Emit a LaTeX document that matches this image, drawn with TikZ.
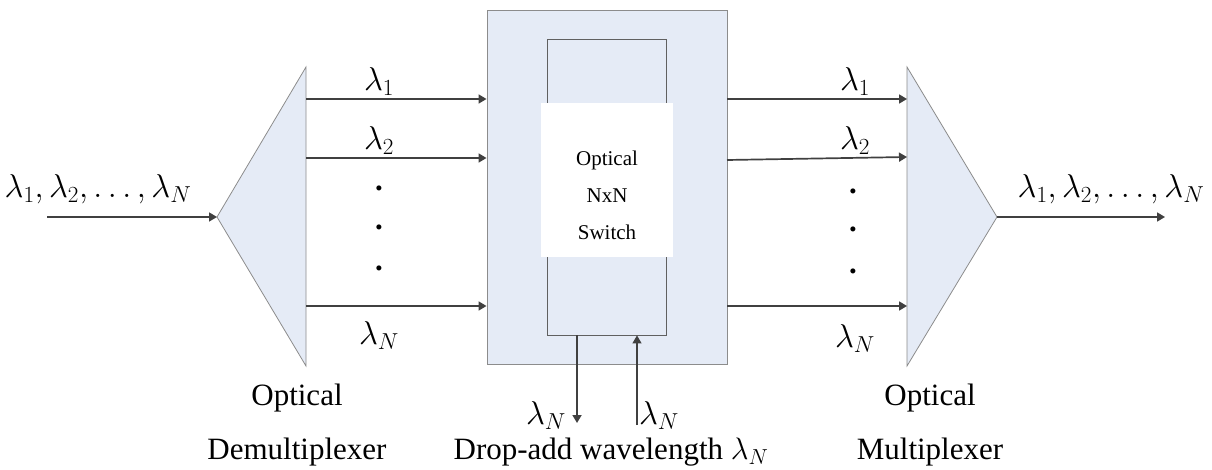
\RequirePackage{fix-cm}
\documentclass[tikz,border=0pt]{standalone}
\usepackage{fontspec}
\setmainfont{Liberation Serif}
\usetikzlibrary{arrows.meta}
\definecolor{boxfill}{HTML}{E5EBF6}
\definecolor{arrgray}{HTML}{404040}
\definecolor{edgegray}{HTML}{8C8C8C}
\definecolor{inneredge}{HTML}{606060}
\tikzset{
  big/.style={font=\fontsize{31}{54}\selectfont, inner sep=0pt},
  mathlbl/.style={font=\fontsize{33}{40}\selectfont, inner sep=0pt},
  small/.style={font=\fontsize{21}{37}\selectfont, inner sep=0pt, align=center},
  arr/.style={draw=arrgray, line width=1.7pt, -{Triangle[length=8pt,width=9pt]}},
  thinarr/.style={draw=arrgray, line width=1.2pt, -{Triangle[length=8pt,width=9pt]}},
  tri/.style={draw=edgegray, line width=0.8pt, fill=boxfill},
  dotlbl/.style={font=\fontsize{31}{37}\selectfont\bfseries, inner sep=0pt, anchor=base},
}
\begin{document}
\begin{tikzpicture}[x=1pt,y=-1pt]
\useasboundingbox (0,0) rectangle (1212,470);
% demultiplexer
\coordinate (dtip) at (217,217);
\coordinate (dtop) at (306,67);
\coordinate (dbot) at (306,366);
\draw[tri] (dtip) -- (dtop) -- (dbot) -- cycle;
% multiplexer
\coordinate (mtip) at (997,217);
\coordinate (mtop) at (907,67);
\coordinate (mbot) at (907,366);
\draw[tri] (mtip) -- (mtop) -- (mbot) -- cycle;
% switch block
\node[draw=edgegray, line width=0.9pt, fill=boxfill, minimum width=240pt, minimum height=354pt, inner sep=0pt] (sw) at (607,187) {};
\node[draw=inneredge, line width=0.8pt, minimum width=119pt, minimum height=296pt, inner sep=0pt] (core) at (606.5,187) {};
\node[fill=white, minimum width=132pt, minimum height=154pt, inner sep=0pt] (white) at (607,180) {};
\node[small] (swtxt) at (607,195) {Optical\\NxN\\Switch};
% input / output
\coordinate (in) at (47,217);
\coordinate (out) at (1165,217);
\draw[arr] (in) -- (dtip);
\draw[arr] (mtip) -- (out);
\node[mathlbl] (inlbl) at (98,189) {$\lambda_1,\lambda_2,\ldots,\lambda_N$};
\node[mathlbl] (outlbl) at (1111,189) {$\lambda_1,\lambda_2,\ldots,\lambda_N$};
% demux -> switch
\coordinate (d1) at (306,99);
\coordinate (d2) at (306,158);
\coordinate (dn) at (306,306);
\draw[arr] (d1) -- (d1 -| sw.west);
\draw[arr] (d2) -- (d2 -| sw.west);
\draw[arr] (dn) -- (dn -| sw.west);
\node[mathlbl] (l1) at (379,82) {$\lambda_1$};
\node[mathlbl] (l2) at (379,141) {$\lambda_2$};
\node[mathlbl] (ln) at (379,336) {$\lambda_N$};
\node[dotlbl] (ld1) at (379,191) {.};
\node[dotlbl] (ld2) at (379,230) {.};
\node[dotlbl] (ld3) at (379,271) {.};
% switch -> mux
\coordinate (s1) at (727,99);
\coordinate (s2) at (727,160);
\coordinate (sn) at (727,306);
\coordinate (m1) at (907,99);
\coordinate (m2) at (907,157);
\coordinate (mn) at (907,306);
\draw[arr] (s1) -- (m1);
\draw[arr] (s2) -- (m2);
\draw[arr] (sn) -- (mn);
\node[mathlbl] (r1) at (855,82) {$\lambda_1$};
\node[mathlbl] (r2) at (855,141) {$\lambda_2$};
\node[mathlbl] (rn) at (855,339) {$\lambda_N$};
\node[dotlbl] (rd1) at (853,194) {.};
\node[dotlbl] (rd2) at (853,232) {.};
\node[dotlbl] (rd3) at (853,273) {.};
% drop / add
\coordinate (dropend) at (577,423);
\coordinate (addstart) at (637,425);
\draw[arr] (core.south -| dropend) -- (dropend);
\draw[thinarr] (addstart) -- (addstart |- core.south);
\node[mathlbl] (dropl) at (546,416) {$\lambda_N$};
\node[mathlbl] (addl) at (659,416) {$\lambda_N$};
\node[big] (datxt) at (611,452) {Drop-add wavelength $\lambda_N$};
% labels
\node[big, align=center] (demuxl) at (297,425) {Optical\\Demultiplexer};
\node[big, align=center] (muxl) at (930,425) {Optical\\Multiplexer};
\end{tikzpicture}
\end{document}
